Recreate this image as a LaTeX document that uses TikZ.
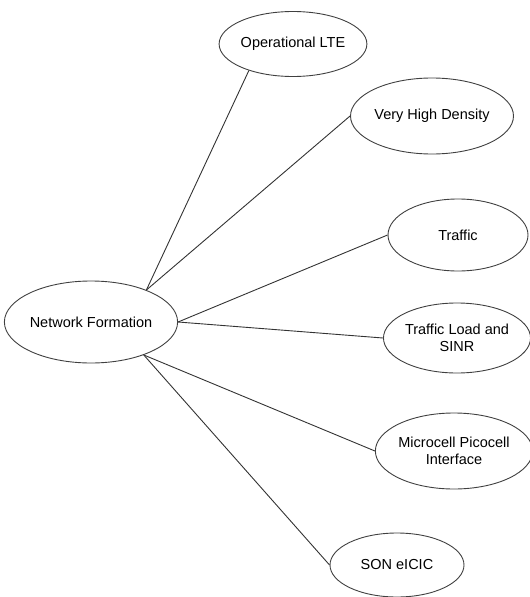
\documentclass[tikz,border=0pt]{standalone}
\usepackage{fontspec}
\setmainfont{Liberation Sans}
\usetikzlibrary{shapes.geometric}

\begin{document}
\begin{tikzpicture}[x=1pt,y=1pt,yscale=-1,xscale=1,
    topic/.style={draw=black!75, ellipse, line width=0.9pt, inner sep=0pt,
        align=center, font=\fontsize{14.5}{17}\selectfont},
    link/.style={draw=black!80, line width=0.9pt}]

% --- CANVAS ---
\useasboundingbox (0,0) rectangle (530,597);

% --- CENTRE NODE ---
\node[topic, minimum width=162pt, minimum height=82pt] (nf) at (91,322) {Network Formation};

% --- OUTER NODES ---
\node[topic, minimum width=128pt, minimum height=65pt] (lte) at (293,44)  {Operational LTE};
\node[topic, minimum width=152pt, minimum height=76pt] (vhd) at (432,116) {Very High Density};
\node[topic, minimum width=140pt, minimum height=72pt] (trf) at (458,235) {Traffic};
\node[topic, minimum width=136pt, minimum height=70pt] (tls) at (457,338) {Traffic Load and\\SINR};
\node[topic, minimum width=142pt, minimum height=76pt] (mpi) at (454,451) {Microcell Picocell\\Interface};
\node[topic, minimum width=134pt, minimum height=64pt] (son) at (397,565) {SON eICIC};

% --- CONNECTORS ---
\draw[link] (nf.30)  -- (lte.211);
\draw[link] (nf.30)  -- (vhd.west);
\draw[link] (nf.east) -- (trf.west);
\draw[link] (nf.east) -- (tls.west);
\draw[link] (nf.-32) -- (mpi.west);
\draw[link] (nf.-32) -- (son.west);

\end{tikzpicture}
\end{document}
